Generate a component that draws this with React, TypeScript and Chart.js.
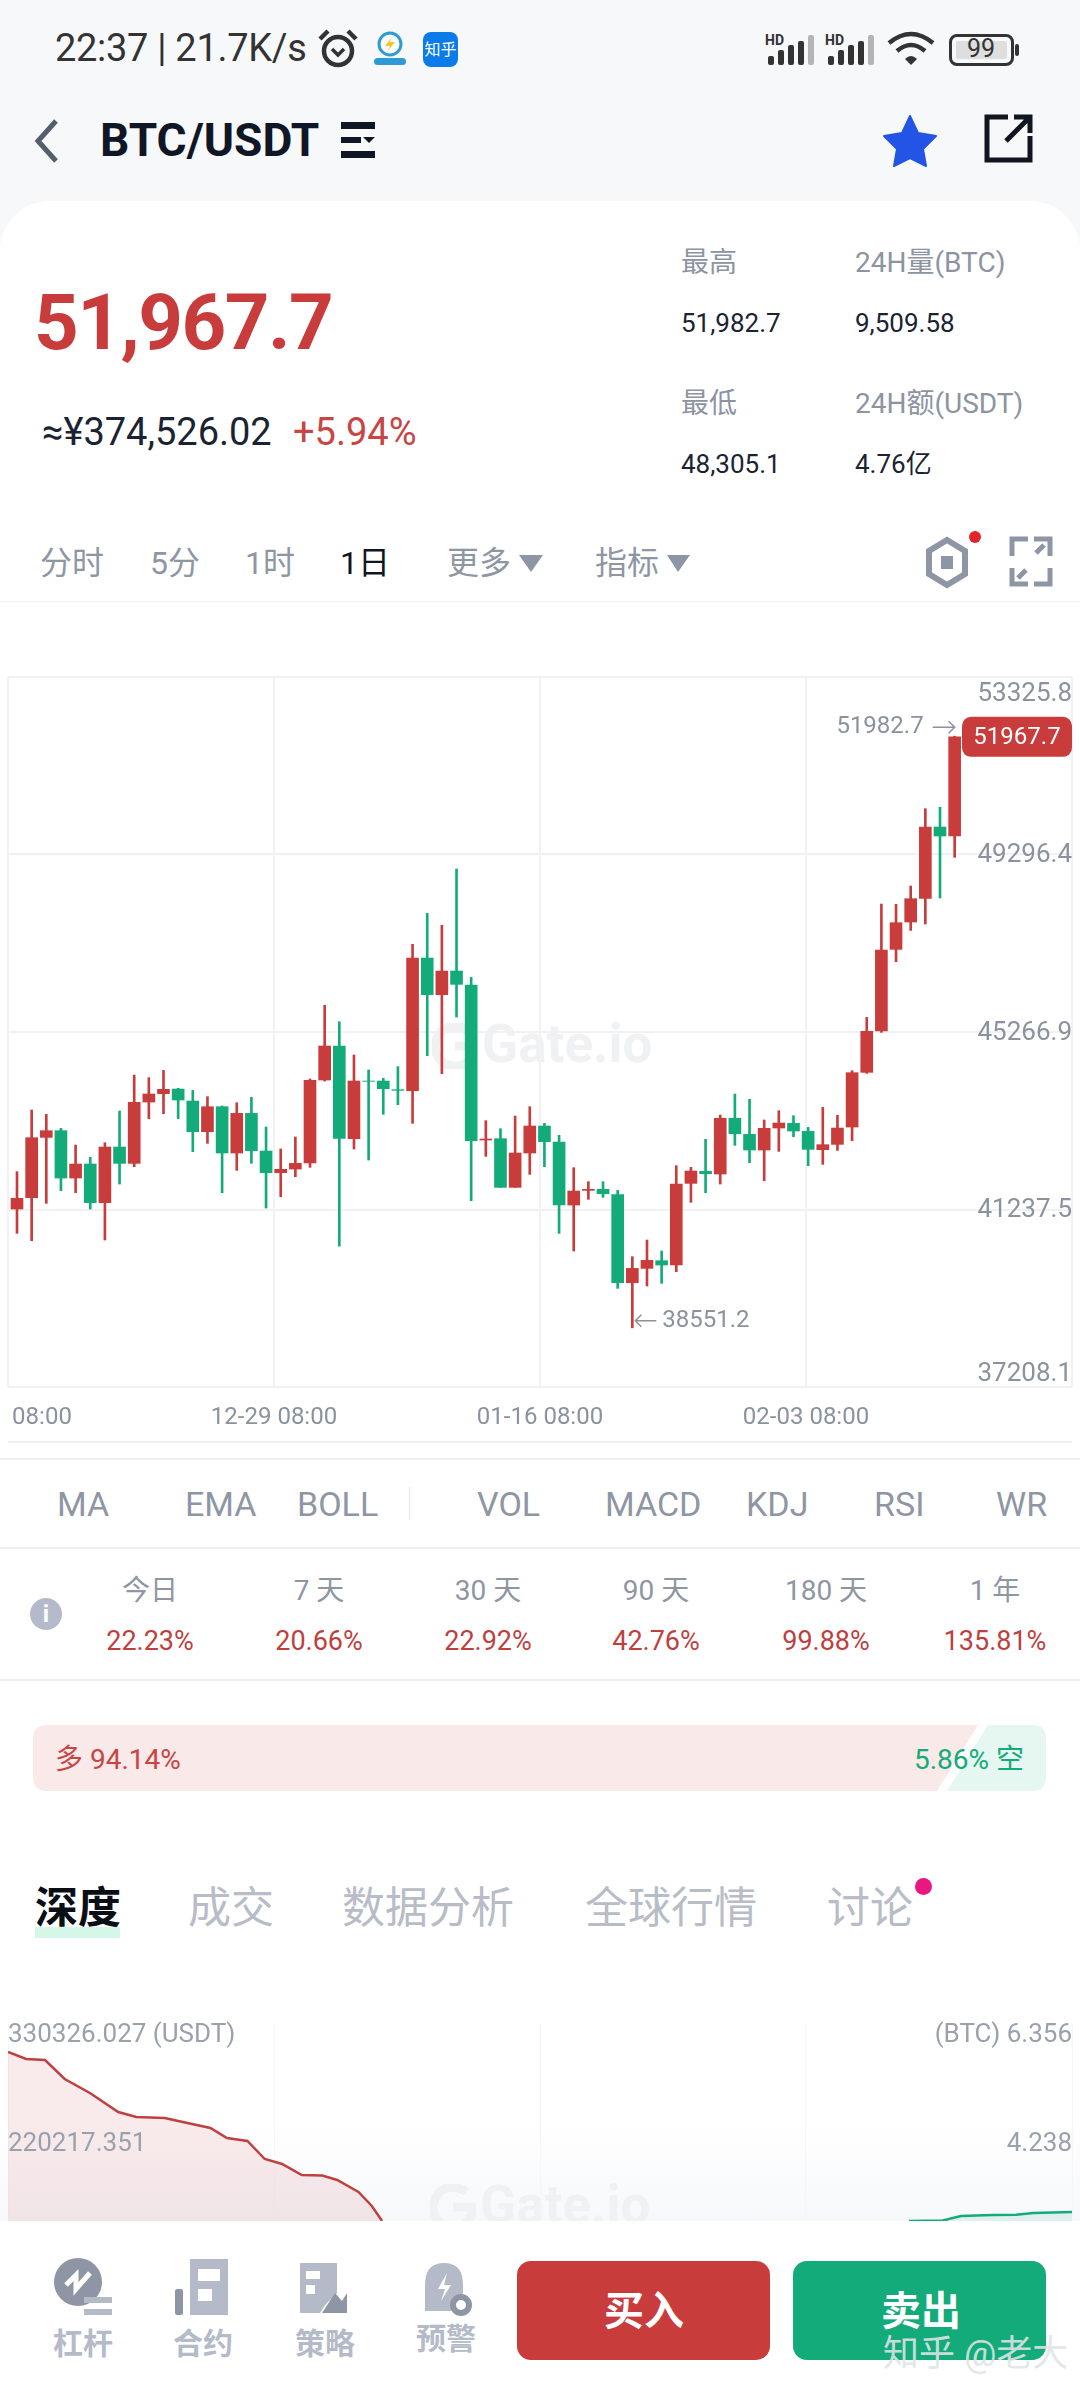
import { useEffect, useRef } from "react"
import { Chart, registerables } from "chart.js"

Chart.register(...registerables)

const UP = "#c93c3c"
const DOWN = "#14ab7a"
const AXIS_TEXT = "#8a929e"
const FONT = 'Roboto, "Noto Sans CJK SC", sans-serif'

// candles, oldest first
const opens = [41248, 41506, 42875, 43027, 41952, 42270, 41392, 42656, 42285, 43677, 43867, 43972, 43700, 43004, 43571, 42520, 43420, 42565, 42073, 42156, 42293, 44177, 44949, 42845, 44154, 44154, 43957, 43935, 46946, 46114, 46651, 46333, 42815, 42845, 41740, 42520, 43133, 42769, 41339, 41672, 41695, 41574, 39576, 39901, 40075, 39977, 41831, 42103, 42043, 43307, 42943, 42588, 43087, 43193, 43011, 42595, 42716, 43110, 44351, 45289, 47143, 47764, 48301, 49920, 49716]
const closes = [41491, 42868, 43027, 41952, 42270, 41392, 42656, 42285, 43670, 43859, 43965, 43723, 43004, 43571, 42520, 43420, 42573, 42073, 42149, 42285, 44169, 44949, 42853, 44154, 44147, 43980, 43942, 46946, 46114, 46651, 46349, 42800, 42837, 41740, 42520, 43133, 42777, 41339, 41657, 41695, 41596, 39576, 39901, 40083, 39977, 41816, 42111, 42051, 43307, 42958, 42588, 43080, 43201, 43019, 42603, 42709, 43087, 44343, 45282, 47128, 47748, 48293, 49920, 49716, 51967.7]
const highs = [42096, 43496, 43397, 43080, 42701, 42421, 42754, 43473, 44290, 44230, 44396, 43988, 43942, 43799, 43587, 43662, 43783, 43110, 42610, 42883, 44200, 45872, 45501, 44744, 44404, 44215, 44480, 47257, 47960, 47688, 48967, 46507, 43254, 43072, 43360, 43571, 43193, 42921, 42187, 41869, 41869, 41672, 40166, 40545, 40295, 42232, 42194, 42830, 43382, 43859, 43738, 43269, 43481, 43367, 43102, 43556, 43375, 44389, 45599, 48172, 48165, 48581, 50336, 50367, 51982.7]
const lows = [40696, 40530, 41377, 41665, 41619, 41248, 40545, 41816, 42209, 43299, 43413, 43299, 42550, 42739, 41619, 42126, 42285, 41271, 41528, 41982, 42194, 44154, 40408, 42610, 42361, 43397, 43617, 43193, 44729, 44320, 45607, 41438, 42444, 41740, 41740, 42035, 42209, 40696, 40295, 41468, 41513, 39447, 38551.2, 39500, 39561, 39826, 41400, 41619, 41816, 42694, 42300, 41891, 42557, 42890, 42232, 42262, 42580, 42800, 44328, 45259, 46863, 47574, 47718, 48308, 49232]

const priceTicks = [53325.8, 49296.4, 45266.9, 41237.5, 37208.1]
const timeLabels = ["08:00", "12-29 08:00", "01-16 08:00", "02-03 08:00", ""]
const lastPrice = 51967.7
const highIndex = 64
const lowIndex = 42

// depth chart
const bidPrices = [51900, 51902.3, 51904.7, 51907.2, 51910.4, 51914, 51916.3, 51919.9, 51922.2, 51925.7, 51927.8, 51930.4, 51932.6, 51934.8, 51937.3, 51939.9, 51941.8, 51944.5, 51946.2, 51947.5]
const bidTotals = [311975, 304840, 303820, 284450, 270175, 250800, 245710, 244690, 240610, 234500, 224300, 221240, 202890, 197790, 186580, 186000, 181480, 169240, 154970, 139680]
const askPrices = [52014.4, 52018.7, 52021, 52025, 52028, 52030.2, 52035.1]
const askTotals = [2.69, 2.7, 2.787, 2.806, 2.81, 2.846, 2.865]
const depthLeftTicks = [330326.027, 220217.351]
const depthRightTicks = [6.356, 4.238]

const xMin = -0.614
const xMax = 72.01

const periods = ["今日", "7 天", "30 天", "90 天", "180 天", "1 年"]
const periodChanges = ["22.23%", "20.66%", "22.92%", "42.76%", "99.88%", "135.81%"]

function quarterTicks(scale: any) {
  const { min, max } = scale
  scale.ticks = [0, 1, 2, 3, 4].map((i) => ({ value: min + ((max - min) * i) / 4 }))
}

const candleLabels = {
  id: "candleLabels",
  afterDraw(chart: any) {
    const { ctx, scales } = chart
    const x = scales.x
    const y = scales.y
    ctx.save()
    ctx.fillStyle = AXIS_TEXT
    ctx.font = `26px ${FONT}`
    ctx.textAlign = "right"
    ctx.textBaseline = "middle"
    priceTicks.forEach((v, i) => {
      let py = y.getPixelForValue(v) + 1
      if (i === 0) py += 16
      if (i === priceTicks.length - 1) py -= 14
      ctx.fillText(v.toFixed(1), 1072, py)
    })

    ctx.font = `24px ${FONT}`
    ctx.textAlign = "center"
    x.ticks.forEach((t: any, i: number) => {
      if (!timeLabels[i]) return
      const px = x.getPixelForValue(t.value) + (i === 0 ? 34 : 0)
      ctx.fillText(timeLabels[i], px, y.bottom + 31)
    })

    // highest and lowest notes
    ctx.strokeStyle = AXIS_TEXT
    ctx.lineWidth = 1.5
    const hx = x.getPixelForValue(highIndex)
    const hy = y.getPixelForValue(highs[highIndex]) - 9
    ctx.font = `24px ${FONT}`
    ctx.textAlign = "right"
    ctx.fillText(highs[highIndex].toFixed(1), hx - 31, hy)
    ctx.beginPath()
    ctx.moveTo(hx - 22, hy)
    ctx.lineTo(hx, hy)
    ctx.moveTo(hx - 6, hy - 6)
    ctx.lineTo(hx, hy)
    ctx.lineTo(hx - 6, hy + 6)
    ctx.stroke()

    const lx = x.getPixelForValue(lowIndex) + 3
    const ly = y.getPixelForValue(lows[lowIndex]) - 7
    ctx.textAlign = "left"
    ctx.fillText(lows[lowIndex].toFixed(1), lx + 27, ly)
    ctx.beginPath()
    ctx.moveTo(lx + 21, ly)
    ctx.lineTo(lx, ly)
    ctx.moveTo(lx + 6, ly - 6)
    ctx.lineTo(lx, ly)
    ctx.lineTo(lx + 6, ly + 6)
    ctx.stroke()

    // last price tag
    const ty = y.getPixelForValue(lastPrice)
    ctx.fillStyle = UP
    ctx.beginPath()
    ctx.roundRect(962, ty - 20, 110, 40, 9)
    ctx.fill()
    ctx.fillStyle = "#fff"
    ctx.textAlign = "center"
    ctx.font = `24px ${FONT}`
    ctx.fillText(lastPrice.toFixed(1), 1017, ty + 1)
    ctx.restore()
  },
}

function CandleChart() {
  const ref = useRef<HTMLCanvasElement>(null)
  useEffect(() => {
    if (!ref.current) return
    const colors = opens.map((o, i) => (closes[i] >= o ? UP : DOWN))
    const chart = new Chart(ref.current, {
      type: "bar",
      data: {
        datasets: [
          {
            label: "wick",
            data: opens.map((_, i) => ({ x: i, y: [lows[i], highs[i]] })) as any,
            backgroundColor: colors,
            barThickness: 2,
            grouped: false,
            order: 2,
          },
          {
            label: "body",
            data: opens.map((o, i) => ({ x: i, y: [o, closes[i]] })) as any,
            backgroundColor: colors,
            barThickness: 12,
            grouped: false,
            order: 1,
          },
        ],
      },
      options: {
        responsive: false,
        animation: false,
        layout: { padding: { left: 8, right: 8, top: 27, bottom: 53 } },
        plugins: { legend: { display: false }, tooltip: { enabled: false } },
        scales: {
          x: {
            type: "linear",
            offset: false,
            min: xMin,
            max: xMax,
            afterBuildTicks: quarterTicks,
            grid: { offset: false, color: "#f1f2f4", lineWidth: 2, drawTicks: false },
            border: { display: false },
            ticks: { display: false },
          },
          y: {
            type: "linear",
            min: priceTicks[4],
            max: priceTicks[0],
            afterBuildTicks: (scale: any) => {
              scale.ticks = priceTicks.map((value) => ({ value }))
            },
            grid: { color: "#f0f1f3", lineWidth: 2, drawTicks: false },
            border: { display: false },
            ticks: { display: false },
          },
        },
      },
      plugins: [candleLabels],
    })
    return () => chart.destroy()
  }, [])
  return <canvas ref={ref} width={1080} height={790} style={{ position: "absolute", left: 0, top: 650 }} />
}

const depthLabels = {
  id: "depthLabels",
  afterDraw(chart: any) {
    const { ctx, scales } = chart
    ctx.save()
    ctx.fillStyle = "#9aa1ad"
    ctx.font = `26px ${FONT}`
    ctx.textBaseline = "middle"
    ctx.textAlign = "left"
    depthLeftTicks.forEach((v, i) => {
      const text = i === 0 ? `${v.toFixed(3)} (USDT)` : v.toFixed(3)
      ctx.fillText(text, 8, scales.y.getPixelForValue(v) + 2)
    })
    ctx.textAlign = "right"
    depthRightTicks.forEach((v, i) => {
      const text = i === 0 ? `(BTC) ${v.toFixed(3)}` : v.toFixed(3)
      ctx.fillText(text, 1072, scales.y1.getPixelForValue(v) + 2)
    })
    ctx.restore()
  },
}

function DepthChart() {
  const ref = useRef<HTMLCanvasElement>(null)
  useEffect(() => {
    if (!ref.current) return
    const chart = new Chart(ref.current, {
      type: "line",
      data: {
        datasets: [
          {
            label: "bids",
            data: bidPrices.map((x, i) => ({ x, y: bidTotals[i] })),
            borderColor: "#c0403f",
            backgroundColor: "rgba(201,60,60,0.1)",
            borderWidth: 2.5,
            pointRadius: 0,
            fill: "start",
            yAxisID: "y",
          },
          {
            label: "asks",
            data: askPrices.map((x, i) => ({ x, y: askTotals[i] })),
            borderColor: DOWN,
            backgroundColor: "rgba(20,171,122,0.1)",
            borderWidth: 2.5,
            pointRadius: 0,
            fill: "start",
            yAxisID: "y1",
          },
        ],
      },
      options: {
        responsive: false,
        animation: false,
        layout: { padding: { left: 8, right: 8, top: 20, bottom: 0 } },
        plugins: { legend: { display: false }, tooltip: { enabled: false } },
        scales: {
          x: {
            type: "linear",
            min: bidPrices[0],
            max: askPrices[askPrices.length - 1],
            afterBuildTicks: quarterTicks,
            grid: { color: "#f5f6f8", lineWidth: 1, drawTicks: false },
            border: { display: false },
            ticks: { display: false },
          },
          y: {
            type: "linear",
            position: "left",
            min: 139680,
            max: 340520,
            grid: { display: false, drawTicks: false },
            border: { display: false },
            ticks: { display: false },
          },
          y1: {
            type: "linear",
            position: "right",
            min: 2.689,
            max: 6.552,
            grid: { display: false, drawTicks: false },
            border: { display: false },
            ticks: { display: false },
          },
        },
      },
      plugins: [depthLabels],
    })
    return () => chart.destroy()
  }, [])
  return <canvas ref={ref} width={1080} height={217} style={{ position: "absolute", left: 0, top: 2004 }} />
}

function Txt({ x, y, size, color, weight, align, spacing, children }: any) {
  const shift = align === "center" ? "-50%" : align === "right" ? "-100%" : "0"
  return (
    <div
      style={{
        position: "absolute",
        left: x,
        top: y,
        transform: `translate(${shift}, -50%)`,
        fontSize: size,
        color,
        fontWeight: weight || 400,
        letterSpacing: spacing,
        lineHeight: 1.2,
        whiteSpace: "nowrap",
      }}
    >
      {children}
    </div>
  )
}

function Watermark({ x, y }: { x: number; y: number }) {
  return (
    <div style={{ position: "absolute", left: x, top: y, width: 220, height: 50 }}>
      <svg width="46" height="46" style={{ position: "absolute", left: 0, top: 2 }}>
        <path d="M36 8 A20 20 0 1 0 43 23 H23" fill="none" stroke="#f0f1f3" strokeWidth="9" />
      </svg>
      <div style={{ position: "absolute", left: 50, top: -8, fontSize: 53, fontWeight: 700, color: "#f0f1f3", lineHeight: 1.2 }}>Gate.io</div>
    </div>
  )
}

function Signal({ x }: { x: number }) {
  const bars = [9, 15, 20, 24, 30]
  return (
    <svg width="52" height="34" style={{ position: "absolute", left: x, top: 32 }}>
      <text x="0" y="13" fontSize="14" fontWeight="700" fontFamily={FONT} fill="#333">HD</text>
      {bars.map((h, i) => (
        <rect key={i} x={3 + i * 10} y={33 - h} width="6" height={h} rx="2" fill={i === 4 ? "#b5b5b5" : "#333"} />
      ))}
    </svg>
  )
}

function StatusBar() {
  return (
    <>
      <Txt x={55} y={49} size={38} color="#333" spacing={-0.3}>22:37 | 21.7K/s</Txt>
      <svg width="44" height="44" style={{ position: "absolute", left: 317, top: 28 }}>
        <circle cx="21" cy="23" r="14" fill="none" stroke="#333" strokeWidth="4.5" />
        <path d="M15 21 L21 27 L27 21" fill="none" stroke="#333" strokeWidth="3.5" />
        <path d="M3 11 L11 3 M31 3 L39 11" stroke="#333" strokeWidth="4.5" />
      </svg>
      <svg width="36" height="40" style={{ position: "absolute", left: 372, top: 30 }}>
        <circle cx="18" cy="14" r="11" fill="#fff" stroke="#2f9bd6" strokeWidth="3" />
        <path d="M20 7 L13 16 H18 L15 22 L23 12 H18 Z" fill="#f4c430" />
        <rect x="2" y="28" width="32" height="7" rx="3.5" fill="#2f9bd6" />
      </svg>
      <div style={{ position: "absolute", left: 423, top: 32, width: 35, height: 35, borderRadius: 8, background: "#0a7be8", color: "#fff", fontSize: 16, lineHeight: "35px", textAlign: "center" }}>知乎</div>
      <Signal x={765} />
      <Signal x={825} />
      <svg width="50" height="38" style={{ position: "absolute", left: 887, top: 31 }}>
        <path d="M2 12 Q24 -6 46 12 M10 20 Q24 8 38 20" fill="none" stroke="#333" strokeWidth="4.5" />
        <path d="M18 28 Q24 22 30 28 L24 34 Z" fill="#333" />
      </svg>
      <div style={{ position: "absolute", left: 949, top: 34, width: 59, height: 26, border: "3px solid #333", borderRadius: 8 }}>
        <div style={{ position: "absolute", left: 4, top: 4, width: 51, height: 18, background: "#dedede", borderRadius: 2 }} />
      </div>
      <div style={{ position: "absolute", left: 1015, top: 44, width: 4, height: 12, background: "#333", borderRadius: 2 }} />
      <Txt x={981} y={49} size={25} color="#333" align="center">99</Txt>
    </>
  )
}

function NavBar() {
  return (
    <>
      <svg width="40" height="50" style={{ position: "absolute", left: 30, top: 116 }}>
        <path d="M26 5 L8 25 L26 45" fill="none" stroke="#555e6d" strokeWidth="5" />
      </svg>
      <Txt x={100} y={141} size={46} color="#0f1626" weight={700}>BTC/USDT</Txt>
      <svg width="38" height="38" style={{ position: "absolute", left: 339, top: 122 }}>
        <rect x="2" y="0" width="34" height="7" fill="#0f1626" />
        <rect x="2" y="15" width="20" height="6" fill="#0f1626" />
        <path d="M24 15 H36 L30 21 Z" fill="#0f1626" />
        <rect x="2" y="29" width="34" height="7" fill="#0f1626" />
      </svg>
      <svg width="56" height="54" style={{ position: "absolute", left: 882, top: 114 }}>
        <path d="M28 2 L36 19 L54 22 L41 35 L44 52 L28 44 L12 52 L15 35 L2 22 L20 19 Z" fill="#2354e6" stroke="#2354e6" strokeWidth="2" strokeLinejoin="round" />
      </svg>
      <svg width="50" height="50" style={{ position: "absolute", left: 984, top: 114 }}>
        <path d="M24 3 H3 V46 H46 V22 M30 3 H46 V19 M46 3 L22 27" fill="none" stroke="#10151f" strokeWidth="5" />
      </svg>
    </>
  )
}

function Summary() {
  return (
    <>
      <div style={{ position: "absolute", left: 0, top: 201, width: 1080, height: 400, background: "#fff", borderRadius: "50px 50px 0 0" }} />
      <Txt x={34} y={323} size={78} color={UP} weight={700} spacing={-1.5}>51,967.7</Txt>
      <Txt x={42} y={433} size={38} color="#1b2333">≈¥374,526.02</Txt>
      <Txt x={293} y={433} size={38} color="#c84545">+5.94%</Txt>
      <Txt x={681} y={263} size={28} color="#8d94a1">最高</Txt>
      <Txt x={855} y={263} size={28} color="#8d94a1">24H量(BTC)</Txt>
      <Txt x={681} y={324} size={26} color="#1b2333">51,982.7</Txt>
      <Txt x={855} y={324} size={26} color="#1b2333">9,509.58</Txt>
      <Txt x={681} y={404} size={28} color="#8d94a1">最低</Txt>
      <Txt x={855} y={404} size={28} color="#8d94a1">24H额(USDT)</Txt>
      <Txt x={681} y={465} size={26} color="#1b2333">48,305.1</Txt>
      <Txt x={855} y={465} size={26} color="#1b2333">4.76亿</Txt>
      <Txt x={40} y={563} size={32} color="#8f96a3">分时</Txt>
      <Txt x={150} y={563} size={32} color="#8f96a3">5分</Txt>
      <Txt x={245} y={563} size={32} color="#8f96a3">1时</Txt>
      <Txt x={340} y={563} size={32} color="#10151f">1日</Txt>
      <Txt x={447} y={563} size={32} color="#8f96a3">更多</Txt>
      <Txt x={595} y={563} size={32} color="#8f96a3">指标</Txt>
      <svg width="700" height="30" style={{ position: "absolute", left: 500, top: 548 }}>
        <path d="M19 7 H43 L31 24 Z M167 7 H190 L178 24 Z" fill="#8e95a5" />
      </svg>
      <svg width="140" height="70" style={{ position: "absolute", left: 920, top: 525 }}>
        <path d="M27 15 L45 26 V49 L27 60 L9 49 V26 Z" fill="none" stroke="#8e95a5" strokeWidth="6" />
        <rect x="21" y="31" width="12" height="13" fill="#8e95a5" />
        <circle cx="55" cy="12" r="6" fill="#e2252b" />
        <path d="M92 31 V14 H108 M114 14 H130 V31 M92 43 V59 H108 M130 43 V59 H114" fill="none" stroke="#8e95a5" strokeWidth="5" />
        <path d="M124 20 L116 28 M98 53 L106 45" stroke="#8e95a5" strokeWidth="5" />
      </svg>
      <div style={{ position: "absolute", left: 0, top: 601, width: 1080, height: 1, background: "#eef0f2" }} />
    </>
  )
}

function Indicators() {
  const line = (top: number, left = 0, width = 1080) => (
    <div style={{ position: "absolute", left, top, width, height: 2, background: "#eef0f2" }} />
  )
  return (
    <>
      {line(1441, 8, 1064)}
      {line(1458)}
      <Txt x={57} y={1504} size={34} color="#8f96a3">MA</Txt>
      <Txt x={185} y={1504} size={34} color="#8f96a3">EMA</Txt>
      <Txt x={297} y={1504} size={34} color="#8f96a3">BOLL</Txt>
      <div style={{ position: "absolute", left: 409, top: 1487, width: 1, height: 33, background: "#e4e7ec" }} />
      <Txt x={477} y={1504} size={34} color="#8f96a3">VOL</Txt>
      <Txt x={605} y={1504} size={34} color="#8f96a3">MACD</Txt>
      <Txt x={746} y={1504} size={34} color="#8f96a3">KDJ</Txt>
      <Txt x={874} y={1504} size={34} color="#8f96a3">RSI</Txt>
      <Txt x={996} y={1504} size={34} color="#8f96a3">WR</Txt>
      {line(1547)}
      <div style={{ position: "absolute", left: 30, top: 1598, width: 32, height: 32, borderRadius: 16, background: "#b4bac9", color: "#fff", fontSize: 24, fontWeight: 700, lineHeight: "32px", textAlign: "center" }}>i</div>
      {periods.map((p, i) => (
        <Txt key={p} x={[150, 319, 488, 656, 826, 995][i]} y={1591} size={28} color="#8f96a3" align="center">{p}</Txt>
      ))}
      {periodChanges.map((p, i) => (
        <Txt key={p} x={[150, 319, 488, 656, 826, 995][i]} y={1641} size={27} color="#bf3f3f" align="center">{p}</Txt>
      ))}
      {line(1679)}
      <svg width="1080" height="70" style={{ position: "absolute", left: 0, top: 1723 }}>
        <path d="M47 2 H978 L937 68 H47 Q33 68 33 54 V16 Q33 2 47 2 Z" fill="#f9e9e8" />
        <path d="M988 2 H1032 Q1046 2 1046 16 V54 Q1046 68 1032 68 H947 Z" fill="#e6f6f0" />
      </svg>
      <Txt x={55} y={1760} size={28} color="#c84545">多 94.14%</Txt>
      <Txt x={1024} y={1760} size={28} color={DOWN} align="right">5.86% 空</Txt>
    </>
  )
}

function DetailTabs() {
  return (
    <>
      <div style={{ position: "absolute", left: 35, top: 1927, width: 85, height: 11, background: "#d5f7e8" }} />
      <Txt x={35} y={1909} size={43} color="#0a0e16" weight={700}>深度</Txt>
      <Txt x={188} y={1909} size={43} color="#b7bcc7">成交</Txt>
      <Txt x={342} y={1909} size={43} color="#b7bcc7">数据分析</Txt>
      <Txt x={585} y={1909} size={43} color="#b7bcc7">全球行情</Txt>
      <Txt x={827} y={1909} size={43} color="#b7bcc7">讨论</Txt>
      <div style={{ position: "absolute", left: 915, top: 1878, width: 17, height: 17, borderRadius: 9, background: "#e9177f" }} />
    </>
  )
}

function Footer() {
  const gray = "#b4bac7"
  const dark = "#8e95a5"
  return (
    <div style={{ position: "absolute", left: 0, top: 2221, width: 1080, height: 179, background: "#fff" }}>
      <svg width="500" height="100" style={{ position: "absolute", left: 0, top: 30 }}>
        <circle cx="78" cy="31" r="24" fill={dark} />
        <path d="M66 34 L76 24 L76 38 L90 22" fill="none" stroke="#fff" strokeWidth="5" />
        <path d="M84 46 H112 V52 H84 Z M84 58 H112 V64 H84 Z" fill={gray} />
        <rect x="175" y="38" width="8" height="26" rx="2" fill={dark} />
        <path d="M190 8 H228 V64 H190 Z" fill={gray} />
        <rect x="198" y="18" width="22" height="12" fill="#fff" />
        <rect x="198" y="38" width="14" height="12" fill="#fff" />
        <path d="M300 12 H337 V42 L325 54 L320 62 H300 Z" fill={gray} />
        <rect x="306" y="20" width="14" height="8" fill="#fff" />
        <rect x="306" y="34" width="9" height="9" fill="#fff" />
        <path d="M322 62 L335 42 L342 50 L347 42 V62 Z" fill={dark} />
        <path d="M425 60 V34 Q425 12 444 12 Q463 12 463 34 V42 L452 60 Z" fill={gray} />
        <path d="M447 22 L438 38 H445 L441 50 L451 34 H444 Z" fill="#fff" />
        <circle cx="461" cy="54" r="8" fill="#fff" stroke={dark} strokeWidth="6" />
      </svg>
      <Txt x={83} y={123} size={30} color={gray} align="center" weight={700}>杠杆</Txt>
      <Txt x={203} y={123} size={30} color={gray} align="center" weight={700}>合约</Txt>
      <Txt x={325} y={123} size={30} color={gray} align="center" weight={700}>策略</Txt>
      <Txt x={446} y={118} size={30} color={gray} align="center" weight={700}>预警</Txt>
      <div style={{ position: "absolute", left: 517, top: 40, width: 253, height: 99, borderRadius: 14, background: UP }} />
      <div style={{ position: "absolute", left: 793, top: 40, width: 253, height: 99, borderRadius: 14, background: DOWN }} />
      <Txt x={644} y={91} size={40} color="#fff" weight={700} align="center">买入</Txt>
      <Txt x={921} y={91} size={40} color="#fff" weight={700} align="center">卖出</Txt>
      <Txt x={883} y={134} size={36} color="rgba(225,228,232,0.9)">知乎 @老大</Txt>
    </div>
  )
}

export default function App() {
  useEffect(() => {
    document.body.style.margin = "0"
  }, [])
  return (
    <div style={{ position: "relative", width: 1080, height: 2400, overflow: "hidden", background: "#fff", fontFamily: FONT }}>
      <div style={{ position: "absolute", left: 0, top: 0, width: 1080, height: 260, background: "#f7f8fa" }} />
      <StatusBar />
      <NavBar />
      <Summary />
      <Watermark x={432} y={1021} />
      <CandleChart />
      <Indicators />
      <DetailTabs />
      <div style={{ position: "absolute", left: 0, top: 2120, width: 1080, height: 101, background: "linear-gradient(#ffffff, #f7f8fb)" }} />
      <div style={{ position: "absolute", left: 0, top: 2024, width: 1080, height: 197, overflow: "hidden" }}>
        <Watermark x={430} y={158} />
      </div>
      <DepthChart />
      <Footer />
    </div>
  )
}
